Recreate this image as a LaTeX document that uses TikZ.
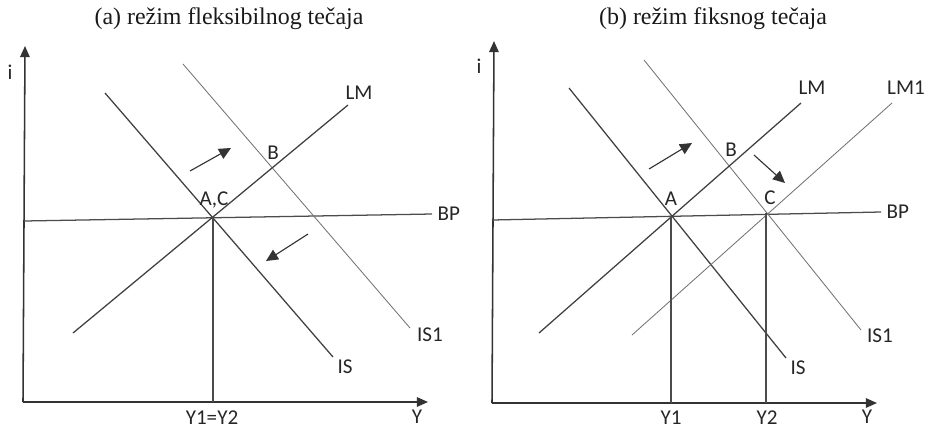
\documentclass[tikz,border=0pt]{standalone}
\usepackage{fontspec}
\setmainfont{Liberation Serif}
\newfontfamily\lblfont{Carlito}
\usetikzlibrary{arrows.meta}

\tikzset{
  axis/.style={draw=black!80, line width=1.1pt, -{Triangle[length=2.8mm,width=2.4mm]}},
  curve/.style={draw=black!75, line width=0.9pt},
  curvelight/.style={draw=black!55, line width=0.6pt},
  guide/.style={draw=black!70, line width=0.9pt},
  shiftarrow/.style={draw=black!80, line width=0.8pt, -{Triangle[length=3mm,width=2.8mm]}},
  lbl/.style={font=\lblfont\fontsize{15}{17}\selectfont, text=black!85, inner sep=1pt},
  ttl/.style={font=\fontsize{17}{19}\selectfont, text=black!90}
}

\begin{document}
\begin{tikzpicture}[x=0.025cm, y=-0.025cm]
        \useasboundingbox (0,0) rectangle (928,430);
        % (a) flexible
        \node[ttl] (ttla) at (229,19) {(a) režim fleksibilnog tečaja};
        \coordinate (Oa) at (23,402);
        \coordinate (iTa) at (25,46);
        \coordinate (YTa) at (428,402);
        \draw[axis] (Oa) -- (iTa);
        \draw[axis] (Oa) -- (YTa);
        \node[lbl] (ia) at (10,72) {i};
        \node[lbl] (Ya) at (417,417) {Y};
        \coordinate (BPa0) at (24,221);
        \coordinate (BPa1) at (432,214);
        \draw[guide] (BPa0) -- (BPa1);
        \node[lbl, anchor=west] (BPla) at (436,214) {BP};
        \coordinate (ISa0) at (105,93);
        \coordinate (ISa1) at (333,357);
        \draw[curve] (ISa0) -- (ISa1);
        \node[lbl] (ISla) at (345,367) {IS};
        \coordinate (IS1a0) at (183,64);
        \coordinate (IS1a1) at (410,328);
        \draw[curvelight] (IS1a0) -- (IS1a1);
        \node[lbl] (IS1la) at (430,335) {IS1};
        \coordinate (LMa0) at (73,333);
        \coordinate (LMa1) at (348,105);
        \draw[curve] (LMa0) -- (LMa1);
        \node[lbl] (LMla) at (359,93) {LM};
        \coordinate (ACa) at (213,217);
        \coordinate (Y12a) at (213,402);
        \draw[guide] (ACa) -- (Y12a);
        \node[lbl] (ACla) at (214,200) {A,C};
        \node[lbl] (Bla) at (273,153) {B};
        \node[lbl] (Y12la) at (212,418) {Y1=Y2};
        \coordinate (sa0) at (190,171);
        \coordinate (sa1) at (231,148);
        \draw[shiftarrow] (sa0) -- (sa1);
        \coordinate (sa2) at (308,234);
        \coordinate (sa3) at (266,261);
        \draw[shiftarrow] (sa2) -- (sa3);

        % (b) fixed
        \node[ttl] (ttlb) at (713,19) {(b) režim fiksnog tečaja};
        \coordinate (Ob) at (492,403);
        \coordinate (iTb) at (494,41);
        \coordinate (YTb) at (877,403);
        \draw[axis] (Ob) -- (iTb);
        \draw[axis] (Ob) -- (YTb);
        \node[lbl] (ib) at (479,66) {i};
        \node[lbl] (Yb) at (867,417) {Y};
        \coordinate (BPb0) at (492,220);
        \coordinate (BPb1) at (881,212);
        \draw[guide] (BPb0) -- (BPb1);
        \node[lbl, anchor=west] (BPlb) at (885,212) {BP};
        \coordinate (ISb0) at (569,88);
        \coordinate (ISb1) at (786,358);
        \draw[curve] (ISb0) -- (ISb1);
        \node[lbl] (ISlb) at (798,368) {IS};
        \coordinate (IS1b0) at (644,60);
        \coordinate (IS1b1) at (861,330);
        \draw[curvelight] (IS1b0) -- (IS1b1);
        \node[lbl] (IS1lb) at (880,336) {IS1};
        \coordinate (LMb0) at (539,333);
        \coordinate (LMb1) at (801,103);
        \draw[curve] (LMb0) -- (LMb1);
        \node[lbl] (LMlb) at (812,88) {LM};
        \coordinate (LM1b0) at (632,335);
        \coordinate (LM1b1) at (892,103);
        \draw[curvelight] (LM1b0) -- (LM1b1);
        \node[lbl] (LM1lb) at (906,88) {LM1};
        \coordinate (Ab) at (671,216);
        \coordinate (Cb) at (766,213);
        \coordinate (Y1b) at (671,403);
        \coordinate (Y2b) at (766,403);
        \draw[guide] (Ab) -- (Y1b);
        \draw[guide] (Cb) -- (Y2b);
        \node[lbl] (Alb) at (671,199) {A};
        \node[lbl] (Clb) at (770,198) {C};
        \node[lbl] (Blb) at (731,150) {B};
        \node[lbl] (Y1lb) at (671,418) {Y1};
        \node[lbl] (Y2lb) at (767,418) {Y2};
        \coordinate (sb0) at (649,169);
        \coordinate (sb1) at (692,143);
        \draw[shiftarrow] (sb0) -- (sb1);
        \coordinate (sb2) at (754,155);
        \coordinate (sb3) at (785,183);
        \draw[shiftarrow] (sb2) -- (sb3);
     \end{tikzpicture}
\end{document}
